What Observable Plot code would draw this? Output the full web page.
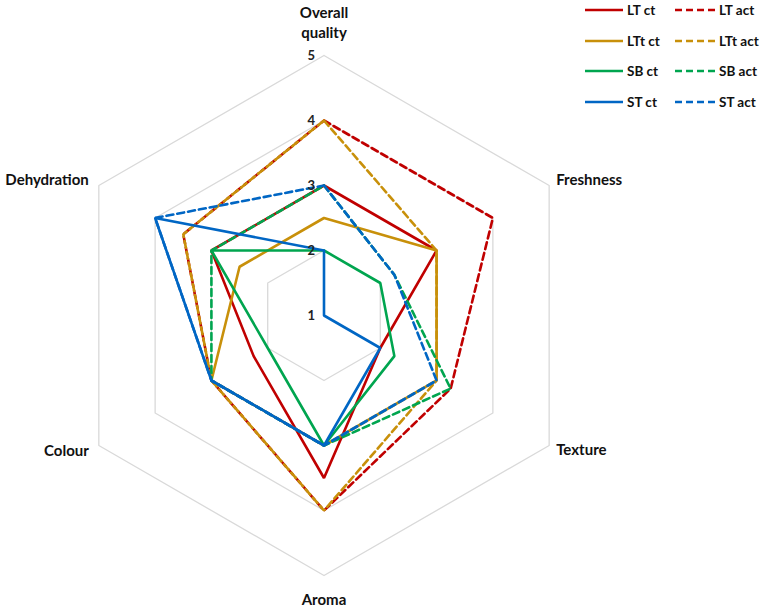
<!DOCTYPE html>
<html>
<head>
<meta charset="utf-8">
<script src="https://cdn.jsdelivr.net/npm/d3@7"></script>
<script src="https://cdn.jsdelivr.net/npm/@observablehq/plot@0.6"></script>
<style>
  html, body { margin: 0; padding: 0; background: #fff; }
  #wrap { position: relative; width: 765px; height: 609px; font-family: Lato, "Open Sans", sans-serif; }
  #legend { position: absolute; left: 0; top: 0; width: 765px; height: 120px; pointer-events: none; }
  .lg-item { position: absolute; display: flex; align-items: center; font-weight: 700; font-size: 13.5px; color: #111; white-space: nowrap; }
  .lg-item svg { margin-right: 4px; }
</style>
</head>
<body>
<div id="wrap"><div id="chart"></div><div id="legend"></div></div>
<script>
// ---- data ----
const axes = ["Overall quality", "Freshness", "Texture", "Aroma", "Colour", "Dehydration"];
const tickValues = [1, 2, 3, 4, 5];
const gridLevels = [2, 3, 4, 5];
const seriesNames = ["LT ct", "LT act", "LTt ct", "LTt act", "SB ct", "SB act", "ST ct", "ST act"];
const LT_ct   = [3, 3, 2, 3.5, 2.25, 3];
const LT_act  = [4, 4, 3.25, 4, 3, 3.5];
const LTt_ct  = [2.5, 3, 3, 3, 3, 2.5];
const LTt_act = [4, 3, 3, 4, 3, 3.5];
const SB_ct   = [2, 2, 2.25, 3, 2, 3];
const SB_act  = [3, 2.25, 3.25, 3, 3, 3];
const ST_ct   = [2, 1, 2, 3, 3, 4];
const ST_act  = [3, 2.25, 3, 3, 3, 4];
const seriesValues = [LT_ct, LT_act, LTt_ct, LTt_act, SB_ct, SB_act, ST_ct, ST_act];
const seriesColors = ["#C00000", "#C00000", "#C8900A", "#C8900A", "#00A54F", "#00A54F", "#0066C4", "#0066C4"];
const seriesDashed = [false, true, false, true, false, true, false, true];

// ---- geometry helpers (value -> cartesian in data units, center = value 1) ----
const minV = 1;
const angle = i => (i * 2 * Math.PI) / axes.length;
const px = (v, i) => (v - minV) * Math.sin(angle(i));
const py = (v, i) => (v - minV) * Math.cos(angle(i));
const ring = (vals) => {
  const pts = vals.map((v, i) => ({x: px(v, i), y: py(v, i)}));
  pts.push(pts[0]);
  return pts;
};

// layout: 65 px per unit, center at (323.5, 315)
const W = 765, H = 609, unit = 65, cx = 323.5, cy = 315;
const xDomain = [-cx / unit, (W - cx) / unit];
const yDomain = [-(H - cy) / unit, cy / unit];

const gridData = gridLevels.flatMap(l => ring(axes.map(() => l)).map(p => ({...p, level: l})));
const tickData = tickValues.map(t => ({x: px(t, 0), y: py(t, 0), label: String(t)}));
const labelData = axes.map((a, i) => ({name: a, x: px(5, i), y: py(5, i), i}));

const font = "Lato, 'Open Sans', sans-serif";
const lab = {fontSize: 15, fontWeight: 700, fill: "#111"};
const marks = [
  Plot.line(gridData, {x: "x", y: "y", z: "level", stroke: "#d9d9d9", strokeWidth: 1.3}),
  ...seriesValues.map((vals, k) => Plot.line(ring(vals), {
    x: "x", y: "y", stroke: seriesColors[k], strokeWidth: 2.6,
    strokeDasharray: seriesDashed[k] ? "7,4" : null, strokeLinejoin: "miter"
  })),
  Plot.text(tickData, {x: "x", y: "y", text: "label", textAnchor: "end", dx: -9, fontSize: 13, fontWeight: 700, fill: "#222"}),
  // axis labels
  Plot.text(labelData.filter(d => d.i === 0), {x: "x", y: "y", text: d => d.name.replace(" ", "\n"), lineAnchor: "bottom", dy: -18, lineHeight: 1.3, ...lab}),
  Plot.text(labelData.filter(d => d.i === 3), {x: "x", y: "y", text: "name", dy: 25, ...lab}),
  Plot.text(labelData.filter(d => d.i === 1), {x: "x", y: "y", text: "name", textAnchor: "start", dx: 7, dy: -5, ...lab}),
  Plot.text(labelData.filter(d => d.i === 2), {x: "x", y: "y", text: "name", textAnchor: "start", dx: 7, dy: 5, ...lab}),
  Plot.text(labelData.filter(d => d.i === 4), {x: "x", y: "y", text: "name", textAnchor: "end", dx: -10, dy: 6, ...lab}),
  Plot.text(labelData.filter(d => d.i === 5), {x: "x", y: "y", text: "name", textAnchor: "end", dx: -10, dy: -5, ...lab})
];

const chart = Plot.plot({
  width: W, height: H, margin: 0,
  x: {domain: xDomain, axis: null},
  y: {domain: yDomain, axis: null},
  style: {fontFamily: font, background: "#fff", overflow: "visible"},
  marks
});
document.getElementById("chart").appendChild(chart);

// legend (2 columns, row-major)
const legend = document.getElementById("legend");
seriesNames.forEach((name, k) => {
  const col = k % 2, row = Math.floor(k / 2);
  const item = document.createElement("div");
  item.className = "lg-item";
  item.style.left = (col === 0 ? 585 : 675) + "px";
  item.style.top = (10 + row * 30.5 - 9) + "px";
  item.style.height = "18px";
  const len = col === 0 ? 38 : 40;
  item.innerHTML = `<svg width="${len}" height="6"><line x1="0" y1="3" x2="${len}" y2="3" stroke="${seriesColors[k]}" stroke-width="2.6" ${seriesDashed[k] ? 'stroke-dasharray="7,4"' : ''}/></svg><span>${name}</span>`;
  legend.appendChild(item);
});
</script>
</body>
</html>
